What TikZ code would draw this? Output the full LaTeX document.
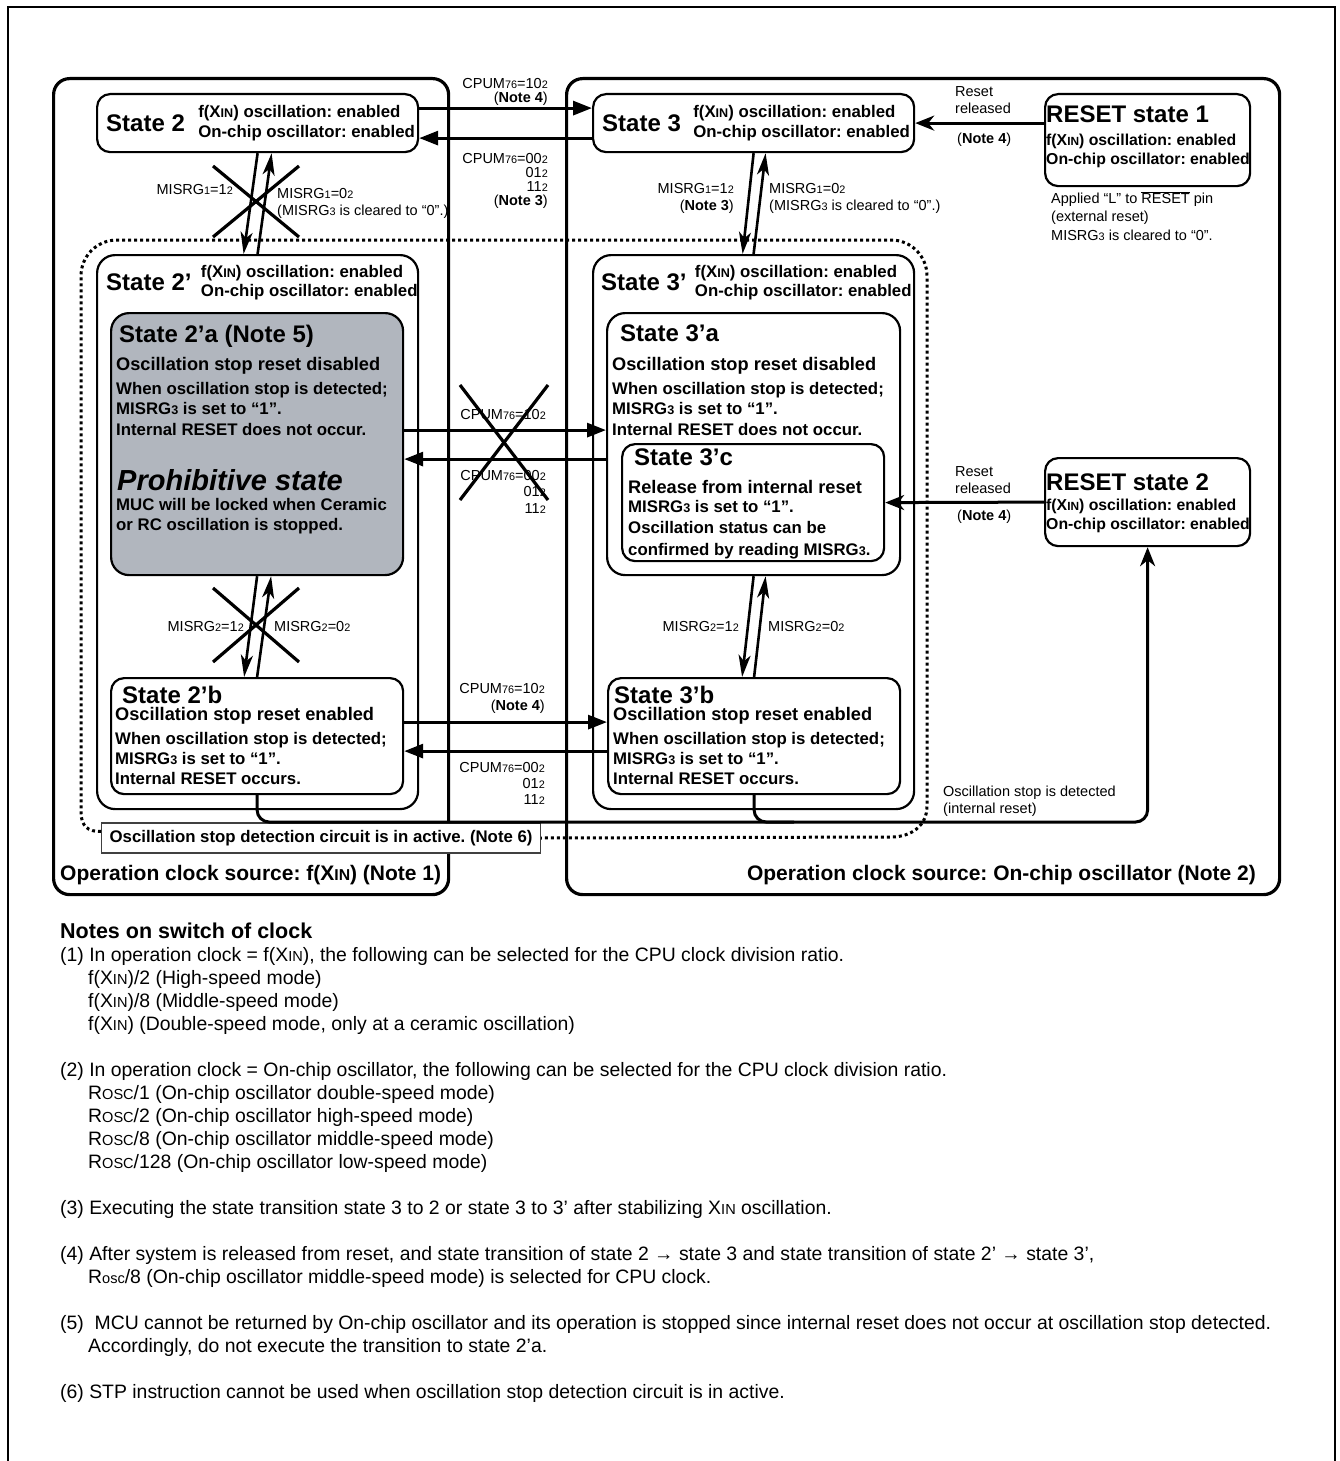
\documentclass[tikz,border=0pt]{standalone}
\usepackage{fontspec}
\setmainfont{Liberation Sans}
\usetikzlibrary{arrows.meta, positioning}
\definecolor{prohibgray}{RGB}{177,182,190}

\newcommand{\lowidx}[1]{\scalebox{0.75}{#1}}
\newcommand{\xin}{X\lowidx{IN}}
\newcommand{\misrg}[1]{MISRG\lowidx{#1}}
\newcommand{\cpum}[1]{CPUM\lowidx{76}=#1\lowidx{2}}
\newcommand{\binv}[1]{#1\lowidx{2}}
\frenchspacing

\begin{document}
\begin{tikzpicture}[x=1pt, y=-1pt,
    clockbox/.style={draw, line width=3.2pt, rounded corners=16pt, inner sep=0pt, anchor=north west},
    statebox/.style={draw, line width=2.2pt, rounded corners=13pt, inner sep=0pt, anchor=north west},
    title/.style={font=\fontsize{24}{26}\selectfont\bfseries, inner sep=0pt, anchor=west},
    stat/.style={font=\fontsize{16.8}{#1}\selectfont\bfseries, inner sep=0pt, anchor=west, align=left},
    stat/.default=19.5,
    rstat/.style={font=\fontsize{15.8}{19.5}\selectfont\bfseries, inner sep=0pt, anchor=west, align=left},
    head/.style={font=\fontsize{18.2}{20}\selectfont\bfseries, inner sep=0pt, anchor=west},
    lbl/.style={font=\fontsize{14.5}{#1}\selectfont, inner sep=0pt},
    lbl/.default=16.5,
    area/.style={font=\fontsize{21}{23}\selectfont\bfseries, inner sep=0pt},
    arrow/.style={line width=3pt, -{Triangle[length=19pt,width=14pt]}},
    varrow/.style={line width=2.6pt, -{Stealth[length=22pt,width=12pt,inset=6pt]}},
    rarrow/.style={line width=3pt, -{Stealth[length=19pt,width=15pt,inset=6pt]}},
    cross/.style={line width=3.2pt},
    dotline/.style={line width=3pt, dash pattern=on 3pt off 3pt},
]
\useasboundingbox (0,0) rectangle (1340,1461);

% Page frame
\draw[line width=2.5pt] (8,1461) -- (8,7) -- (1335,7) -- (1335,1461);

% Clock source areas
\node[clockbox, minimum width=395pt, minimum height=816pt] (fxin) at (52,77) {};
\node[clockbox, minimum width=713pt, minimum height=816pt] (onchip) at (565,77) {};
\node[area, anchor=west] (fxinlbl) at (60,875) {Operation clock source: f(\xin) (Note 1)};
\node[area, anchor=east] (onchiplbl) at (1256,875) {Operation clock source: On-chip oscillator (Note 2)};

% Detection circuit active area
\node[draw=black!75, line width=1.3pt, fill=white, inner xsep=8pt, inner ysep=0pt,
      minimum height=30pt, anchor=west, font=\fontsize{16.8}{19}\selectfont\bfseries]
    (note6) at (101,838) {Oscillation stop detection circuit is in active. (Note 6)};
\draw[dotline] ([yshift=-9pt]note6.north west) .. controls (88,832) and (81,826) .. (81,812)
    -- (81,276) .. controls (81,256) and (97,240) .. (117,240)
    -- (891,240) .. controls (911,240) and (927,256) .. (927,276)
    -- (927,806) .. controls (927,826) and (911,837) .. (891,837) -- (note6.east);

% State 2 and State 3
\node[statebox, minimum width=321pt, minimum height=58pt] (s2) at (96,93) {};
\node[title, right=10pt of s2.west] (s2t) {State 2};
\node[stat, right=13pt of s2t] (s2s) {f(\xin) oscillation: enabled\\On-chip oscillator: enabled};

\node[statebox, minimum width=321pt, minimum height=58pt] (s3) at (592,93) {};
\node[title, right=10pt of s3.west] (s3t) {State 3};
\node[stat, right=12pt of s3t] (s3s) {f(\xin) oscillation: enabled\\On-chip oscillator: enabled};

% Reset state 1
\node[statebox, minimum width=205pt, minimum height=92pt] (rst1) at (1044,93) {};
\node[title, below right=13pt and 2pt of rst1.north west] (rst1t) {RESET state 1};
\node[rstat] (rst1s) at (1046,151) {f(\xin) oscillation: enabled\\On-chip oscillator: enabled};
\node[lbl=18.5, anchor=west, align=left] (rst1n) at (1051,216)
    {Applied “L” to $\overline{\mbox{RESET}}$ pin\\(external reset)\\\misrg{3} is cleared to “0”.};

% State 2' and State 3'
\node[statebox, rounded corners=18pt, minimum width=321pt, minimum height=554pt] (s2p) at (96,254) {};
\node[title, below right=20pt and 10pt of s2p.north west] (s2pt) {State 2’};
\node[stat, right=9pt of s2pt] (s2ps) {f(\xin) oscillation: enabled\\On-chip oscillator: enabled};

\node[statebox, rounded corners=18pt, minimum width=321pt, minimum height=554pt] (s3p) at (592,254) {};
\node[title, below right=20pt and 9pt of s3p.north west] (s3pt) {State 3’};
\node[stat, right=8pt of s3pt] (s3ps) {f(\xin) oscillation: enabled\\On-chip oscillator: enabled};

% State 2'a (prohibitive)
\node[statebox, rounded corners=18pt, fill=prohibgray, minimum width=292pt, minimum height=262pt] (s2a) at (110,312) {};
\node[title, below right=13pt and 9pt of s2a.north west] (s2at) {State 2’a (Note 5)};
\node[head] (s2ah) at (116,366) {Oscillation stop reset disabled};
\node[stat=20.5] (s2ad) at (116,408.5)
    {When oscillation stop is detected;\\\misrg{3} is set to “1”.\\Internal RESET does not occur.};
\node[head, font=\fontsize{29}{31}\selectfont\bfseries\itshape] (s2ap) at (117,480) {Prohibitive state};
\node[stat=20] (s2am) at (116,516) {MUC will be locked when Ceramic\\or RC oscillation is stopped.};

% State 3'a and State 3'c
\node[statebox, rounded corners=18pt, minimum width=293pt, minimum height=262pt] (s3a) at (606,312) {};
\node[title, below right=13pt and 14pt of s3a.north west] (s3at) {State 3’a};
\node[head] (s3ah) at (612,366) {Oscillation stop reset disabled};
\node[stat=20.5] (s3ad) at (612,408.5)
    {When oscillation stop is detected;\\\misrg{3} is set to “1”.\\Internal RESET does not occur.};
\node[statebox, minimum width=262pt, minimum height=117pt] (s3c) at (621,443) {};
\node[title, below right=6pt and 13pt of s3c.north west] (s3ct) {State 3’c};
\node[head] (s3ch) at (628,487) {Release from internal reset};
\node[stat=21.5] (s3cd) at (628,529.5)
    {\misrg{3} is set to “1”.\\Oscillation status can be\\confirmed by reading \misrg{3}.};

% State 2'b and State 3'b
\node[statebox, minimum width=292pt, minimum height=116pt] (s2b) at (110,677) {};
\node[title, below right=9pt and 12pt of s2b.north west] (s2bt) {State 2’b};
\node[head] (s2bh) at (115,716) {Oscillation stop reset enabled};
\node[stat=20] (s2bd) at (115,758)
    {When oscillation stop is detected;\\\misrg{3} is set to “1”.\\Internal RESET occurs.};

\node[statebox, minimum width=292pt, minimum height=116pt] (s3b) at (607,677) {};
\node[title, below right=9pt and 7pt of s3b.north west] (s3bt) {State 3’b};
\node[head] (s3bh) at (613,716) {Oscillation stop reset enabled};
\node[stat=20] (s3bd) at (613,758)
    {When oscillation stop is detected;\\\misrg{3} is set to “1”.\\Internal RESET occurs.};

% Reset state 2
\node[statebox, minimum width=205pt, minimum height=88pt] (rst2) at (1044,457) {};
\node[title, below right=17pt and 2pt of rst2.north west] (rst2t) {RESET state 2};
\node[rstat] (rst2s) at (1046,516) {f(\xin) oscillation: enabled\\On-chip oscillator: enabled};

% Clock switching (CPUM)
\draw[arrow] ([yshift=15pt]s2.east) -- ([yshift=15pt]s3.west);
\draw[arrow] ([yshift=-15pt]s3.west) -- ([yshift=-15pt]s2.east);
\draw[arrow] ([yshift=14pt]s2a.east) -- ([yshift=14pt]s3a.west);
\draw[arrow] ([yshift=-15pt]s3a.west) -- ([yshift=-15pt]s2a.east);
\draw[arrow] ([yshift=14pt]s2b.east) -- ([yshift=14pt]s3b.west);
\draw[arrow] ([yshift=-15pt]s3b.west) -- ([yshift=-15pt]s2b.east);

\node[lbl=14, anchor=east, align=right] (c1) at (548,92) {\cpum{10}\\(\textbf{Note 4})};
\node[lbl=14, anchor=east, align=right] (c2) at (548,181) {\cpum{00}\\\binv{01}\\\binv{11}\\(\textbf{Note 3})};
\node[lbl, anchor=east] (c3) at (546,415) {\cpum{10}};
\node[lbl, anchor=east, align=right] (c4) at (546,491.5) {\cpum{00}\\\binv{01}\\\binv{11}};
\node[lbl=17, anchor=east, align=right] (c5) at (545,698.5) {\cpum{10}\\(\textbf{Note 4})};
\node[lbl=16, anchor=east, align=right] (c6) at (545,783) {\cpum{00}\\\binv{01}\\\binv{11}};

% MISRG transitions
\draw[varrow] (s2.south) -- ([xshift=-14pt]s2p.north);
\draw[varrow] (s2p.north) -- ([xshift=14pt]s2.south);
\draw[varrow] (s2a.south) -- ([xshift=-13pt]s2b.north);
\draw[varrow] (s2b.north) -- ([xshift=14pt]s2a.south);
\draw[varrow] (s3.south) -- ([xshift=-11pt]s3p.north);
\draw[varrow] (s3p.north) -- ([xshift=12pt]s3.south);
\draw[varrow] (s3a.south) -- ([xshift=-12pt]s3b.north);
\draw[varrow] (s3b.north) -- ([xshift=12pt]s3a.south);

\node[lbl, anchor=east] (m1) at (233,190) {\misrg{1}=\binv{1}};
\node[lbl=17, anchor=west, align=left] (m2) at (277,203.5) {\misrg{1}=\binv{0}\\(\misrg{3} is cleared to “0”.)};
\node[lbl=17, anchor=east, align=right] (m3) at (734,198.5) {\misrg{1}=\binv{1}\\(\textbf{Note 3})};
\node[lbl=17, anchor=west, align=left] (m4) at (769,198.5) {\misrg{1}=\binv{0}\\(\misrg{3} is cleared to “0”.)};
\node[lbl, anchor=east] (m5) at (244,627) {\misrg{2}=\binv{1}};
\node[lbl, anchor=west] (m6) at (274,627) {\misrg{2}=\binv{0}};
\node[lbl, anchor=east] (m7) at (739,627) {\misrg{2}=\binv{1}};
\node[lbl, anchor=west] (m8) at (768,627) {\misrg{2}=\binv{0}};

% Prohibited transitions
\draw[cross] (213,166) -- (299,237) (299,166) -- (213,237);
\draw[cross] (213,588) -- (299,662) (299,588) -- (213,662);
\draw[cross] (460,385) -- (548,500) (548,385) -- (460,500);

% Reset release
\draw[rarrow] (rst1.west |- s3.east) -- (s3.east);
\draw[rarrow] (rst2.west) -- (s3c.east);
\node[lbl=17, anchor=west, align=left] (r1) at (955,100.5) {Reset\\released};
\node[lbl, anchor=west] (r2) at (957,140) {(\textbf{Note 4})};
\node[lbl=17, anchor=west, align=left] (r3) at (955,480.5) {Reset\\released};
\node[lbl, anchor=west] (r4) at (957,517) {(\textbf{Note 4})};

% Internal reset path
\coordinate (busy) at (0,822);
\draw[rarrow, rounded corners=12pt] (s2b.south) |- (rst2.south |- busy) -- (rst2.south);
\draw[line width=3pt, rounded corners=12pt] (s3b.south) |- ([xshift=40pt]s3b.south |- busy);
\node[lbl=17, anchor=west, align=left] (osd) at (943,801.5) {Oscillation stop is detected\\(internal reset)};

% Notes
\node[anchor=north west, inner sep=0pt, align=left, font=\fontsize{19.4}{23}\selectfont] (notes) at (60,923) {%
{\fontsize{21.5}{23}\selectfont\bfseries Notes on switch of clock}\\
(1) In operation clock = f(\xin), the following can be selected for the CPU clock division ratio.\\
\hspace*{28pt}f(\xin)/2 (High-speed mode)\\
\hspace*{28pt}f(\xin)/8 (Middle-speed mode)\\
\hspace*{28pt}f(\xin) (Double-speed mode, only at a ceramic oscillation)\\[23pt]
(2) In operation clock = On-chip oscillator, the following can be selected for the CPU clock division ratio.\\
\hspace*{28pt}R\lowidx{OSC}/1 (On-chip oscillator double-speed mode)\\
\hspace*{28pt}R\lowidx{OSC}/2 (On-chip oscillator high-speed mode)\\
\hspace*{28pt}R\lowidx{OSC}/8 (On-chip oscillator middle-speed mode)\\
\hspace*{28pt}R\lowidx{OSC}/128 (On-chip oscillator low-speed mode)\\[23pt]
(3) Executing the state transition state 3 to 2 or state 3 to 3’ after stabilizing \xin{} oscillation.\\[23pt]
(4) After system is released from reset, and state transition of state 2 → state 3 and state transition of state 2’ → state 3’,\\
\hspace*{28pt}R\lowidx{osc}/8 (On-chip oscillator middle-speed mode) is selected for CPU clock.\\[23pt]
(5)\ \ MCU cannot be returned by On-chip oscillator and its operation is stopped since internal reset does not occur at oscillation stop detected.\\
\hspace*{28pt}Accordingly, do not execute the transition to state 2’a.\\[23pt]
(6) STP instruction cannot be used when oscillation stop detection circuit is in active.};

\end{tikzpicture}
\end{document}
